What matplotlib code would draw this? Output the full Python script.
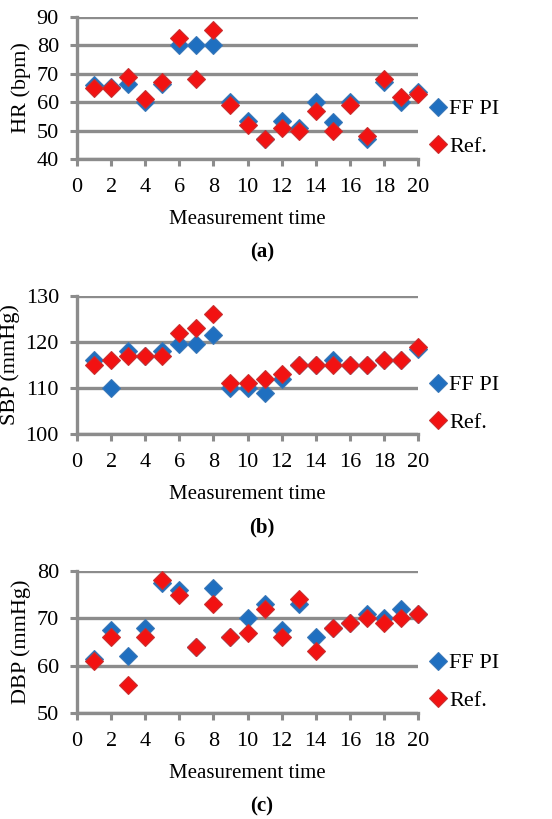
import matplotlib
matplotlib.use("Agg")
import matplotlib.pyplot as plt
from matplotlib.ticker import MultipleLocator

plt.rcParams['font.family'] = ['Liberation Serif', 'DejaVu Serif']

t = list(range(1, 21))

hr_ffpi = [66, 65.5, 66.5, 60, 66.5, 80, 80, 80, 60, 53.5, 47, 53.5, 51, 60, 53, 60, 47, 67, 60, 63.5]
hr_ref = [65, 65, 69, 61, 67, 82.5, 68, 85.5, 59, 52, 47, 51, 50, 57, 50, 59, 48, 68, 62, 63]

sbp_ffpi = [116, 110, 118, 117, 118, 119.5, 119.5, 121.5, 110, 110, 109, 112, 115, 115, 116, 115, 115, 116, 116, 118.5]
sbp_ref = [115, 116, 117, 117, 117, 122, 123, 126, 111, 111, 112, 113, 115, 115, 115, 115, 115, 116, 116, 119]

dbp_ffpi = [61.5, 67.5, 62, 68, 77.5, 76, 64, 76.5, 66, 70, 73, 67.5, 73, 66, 68, 69, 71, 70, 72, 71]
dbp_ref = [61, 66, 56, 66, 78, 75, 64, 73, 66, 67, 72, 66, 74, 63, 68, 69, 70, 69, 70, 71]

panels = [
    ("HR (bpm)", hr_ffpi, hr_ref, (40, 90), "(a)"),
    ("SBP (mmHg)", sbp_ffpi, sbp_ref, (100, 130), "(b)"),
    ("DBP (mmHg)", dbp_ffpi, dbp_ref, (50, 80), "(c)"),
]

W, H = 552, 819
fig = plt.figure(figsize=(W / 100, H / 100), dpi=100)

# pixel boxes: (top, bottom)
boxes = [(17, 159), (296, 434), (571, 713)]
left_px, right_px = 77, 418
grey = '#8c8c8c'
blue = '#1f6fc0'
red = '#f21212'

for (ylabel, f, r, ylim, tag), (top, bot) in zip(panels, boxes):
    ax = fig.add_axes([left_px / W, 1 - bot / H, (right_px - left_px) / W, (bot - top) / H])
    ax.set_xlim(0, 20)
    ax.set_ylim(*ylim)
    ax.yaxis.set_major_locator(MultipleLocator(10))
    ax.xaxis.set_major_locator(MultipleLocator(2))
    ax.grid(axis='y', color=grey, linewidth=2.4)
    ax.set_axisbelow(True)
    for s in ['top', 'right']:
        ax.spines[s].set_visible(False)
    for s in ['left', 'bottom']:
        ax.spines[s].set_color(grey)
        ax.spines[s].set_linewidth(2.4)
    ax.tick_params(axis='x', direction='out', length=5, width=2.2, color=grey,
                   labelsize=16, pad=9)
    ax.tick_params(axis='y', direction='out', length=5, width=2.2, color=grey,
                   labelsize=16, pad=8)
    ax.plot(t, f, linestyle='none', marker='D', markersize=9.5, color=blue,
            markeredgecolor='#3a78b8', markeredgewidth=0.8, label='FF PI', clip_on=False, zorder=3)
    ax.plot(t, r, linestyle='none', marker='D', markersize=9.5, color=red,
            markeredgecolor='#c83030', markeredgewidth=0.8, label='Ref.', clip_on=False, zorder=4)
    ax.set_ylabel(ylabel, fontsize=16, labelpad=4)
    ax.set_xlabel("Measurement time", fontsize=15, labelpad=9)
    leg = ax.legend(loc='center left', bbox_to_anchor=(1.0, 0.22), frameon=False, fontsize=16,
                    handlelength=0.6, handletextpad=0.2, labelspacing=0.75, borderaxespad=0.2,
                    markerscale=1.0)
    fig.text(262 / W, 1 - (bot + 93) / H, tag, fontsize=15, fontweight='bold',
             ha='center', va='center')

fig.savefig("out.png", dpi=100)
